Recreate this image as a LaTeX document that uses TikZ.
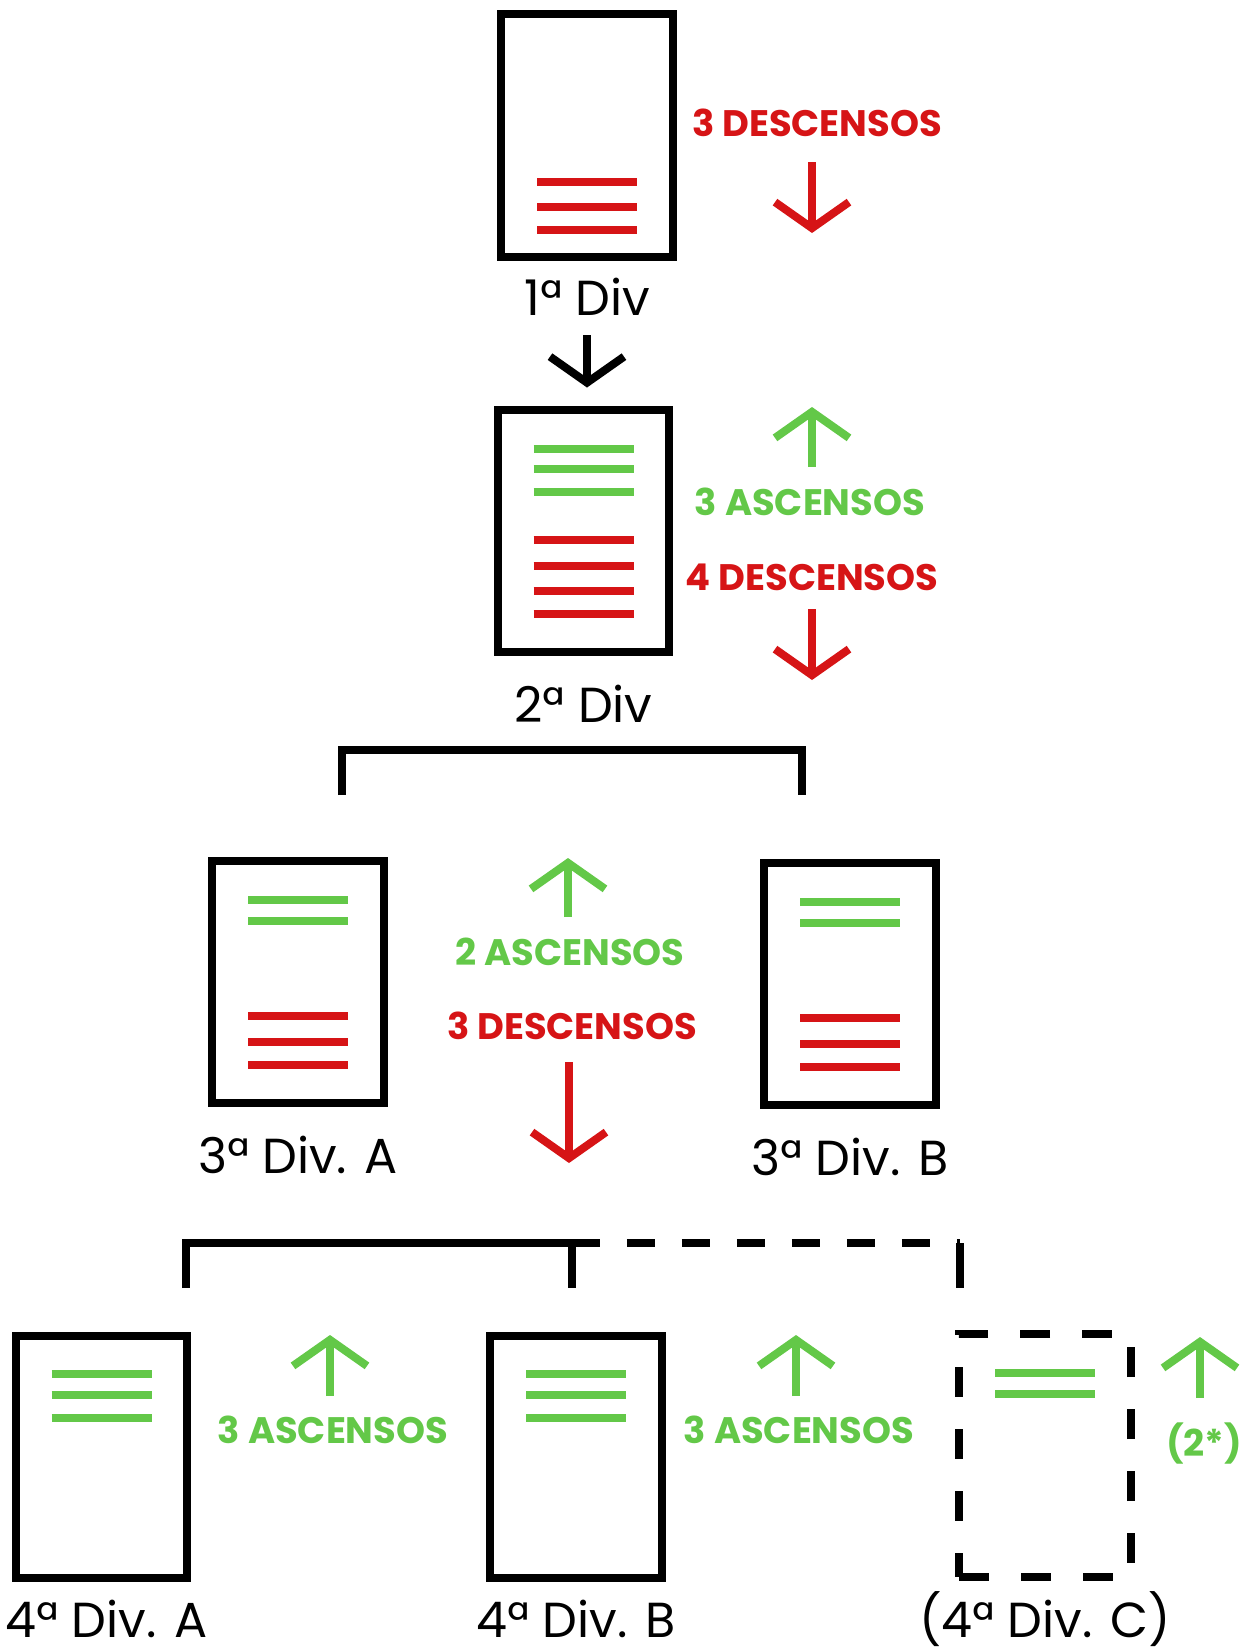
\documentclass[tikz,border=0pt]{standalone}
\usepackage{fontspec}
\setmainfont{Poppins}
\usepackage{tikz}
\usetikzlibrary{arrows.meta, positioning}
\definecolor{descenso}{RGB}{214,20,22}
\definecolor{ascenso}{RGB}{99,200,72}

\begin{document}
\begin{tikzpicture}[
  x=0.02cm, y=-0.02cm,
  node distance=0.56cm,
  div/.style={rectangle, draw=black, line width=0.16cm, minimum width=3.44cm,
              minimum height=4.86cm, inner sep=0pt},
  divc/.style={div, dash pattern=on 0.6cm off 0.64cm},
  divlbl/.style={font=\fontsize{28}{30}\selectfont, inner sep=0pt},
  cuenta/.style={font=\fontsize{21}{24}\selectfont\bfseries, inner sep=0pt},
  raya/.style={line width=0.16cm},
  flecha/.style={line width=0.16cm, -{Straight Barb[length=0.52cm, width=1.48cm]}},
  llave/.style={line width=0.16cm},
  rayas/.style={llave, dash pattern=on 0.56cm off 0.54cm},
]
\useasboundingbox (0,0) rectangle (1254,1650);

% divisiones
\node[div] (b1) at (587,135.5) {};
\node[div] (b2) at (583.5,531) {};
\node[div] (b3a) at (298,982) {};
\node[div] (b3b) at (850,984) {};
\node[div] (b4a) at (101.5,1457) {};
\node[div] (b4b) at (576,1457) {};
\node[divc] (b4c) at (1045,1455.5) {};

\node[divlbl, below=0.34cm of b1] (l1) {1ª Div};
\node[divlbl, below=of b2] (l2) {2ª Div};
\node[divlbl, below=of b3a] (l3a) {3ª Div. A};
\node[divlbl, below=of b3b] (l3b) {3ª Div. B};
\node[divlbl, below=0.34cm of b4a, xshift=0.1cm] (l4a) {4ª Div. A};
\node[divlbl, below=0.34cm of b4b] (l4b) {4ª Div. B};
\node[divlbl, anchor=base] (l4c) at (l4b.base -| b4c) {(4ª Div. C)};

% rayas de ascensos y descensos
\foreach \dy in {46.5,71.5,94.5}
  \draw[raya, descenso] ([shift={(-50,\dy)}]b1.center) -- ++(100,0);
\foreach \dy in {-82,-62,-39}
  \draw[raya, ascenso] ([shift={(-50,\dy)}]b2.center) -- ++(100,0);
\foreach \dy in {9,35,60,83}
  \draw[raya, descenso] ([shift={(-50,\dy)}]b2.center) -- ++(100,0);
\foreach \b in {b3a,b3b}{
  \foreach \dy in {-82,-61}
    \draw[raya, ascenso] ([shift={(-50,\dy)}]\b.center) -- ++(100,0);
  \foreach \dy in {34,60,83}
    \draw[raya, descenso] ([shift={(-50,\dy)}]\b.center) -- ++(100,0);
}
\foreach \b in {b4a,b4b}
  \foreach \dy in {-83,-62,-39}
    \draw[raya, ascenso] ([shift={(-50,\dy)}]\b.center) -- ++(100,0);
\foreach \dy in {-82.5,-62}
  \draw[raya, ascenso] ([shift={(-50,\dy)}]b4c.center) -- ++(100,0);

% textos
\node[cuenta, descenso] (t1) at (817,123) {3 DESCENSOS};
\node[cuenta, ascenso] (t2) at (810,502) {3 ASCENSOS};
\node[cuenta, descenso] (t3) at (812,577) {4 DESCENSOS};
\node[cuenta, ascenso] (t4) at (570,952) {2 ASCENSOS};
\node[cuenta, descenso] (t5) at (572,1026) {3 DESCENSOS};
\node[cuenta, ascenso] (t6) at (333,1430) {3 ASCENSOS};
\node[cuenta, ascenso] (t7) at (799,1430) {3 ASCENSOS};
\node[cuenta, ascenso] (t8) at (1204,1443) {(2*)};

% flechas
\draw[flecha, descenso] (812,162) -- (812,233);
\draw[flecha, ascenso] (812,467) -- (812,407);
\draw[flecha, descenso] (812,609) -- (812,680);
\draw[flecha, ascenso] (568,917) -- (568,858);
\draw[flecha, descenso] (569,1062) -- (569,1163);
\draw[flecha, ascenso] (330,1396) -- (330,1335);
\draw[flecha, ascenso] (796,1396) -- (796,1335);
\draw[flecha, ascenso] (1200,1398) -- (1200,1337);
\draw[flecha, shorten <=0.38cm, shorten >=0.36cm] (l1) -- (l1 |- b2.north);

% llaves
\coordinate (k1a) at (342,795);
\coordinate (k1b) at (802,795);
\draw[llave] (k1a) -- ++(0,-45) -| (k1b);
\coordinate (k2a) at (186,1288);
\coordinate (k2b) at (572,1288);
\coordinate (k2c) at (960,1288);
\draw[llave] (k2a) -- ++(0,-45) coordinate (k2m) -| (k2b);
\draw[rayas] (k2b |- k2m) -- (k2c |- k2m);
\draw[llave] (k2c |- k2m) -- (k2c);

\end{tikzpicture}
\end{document}
